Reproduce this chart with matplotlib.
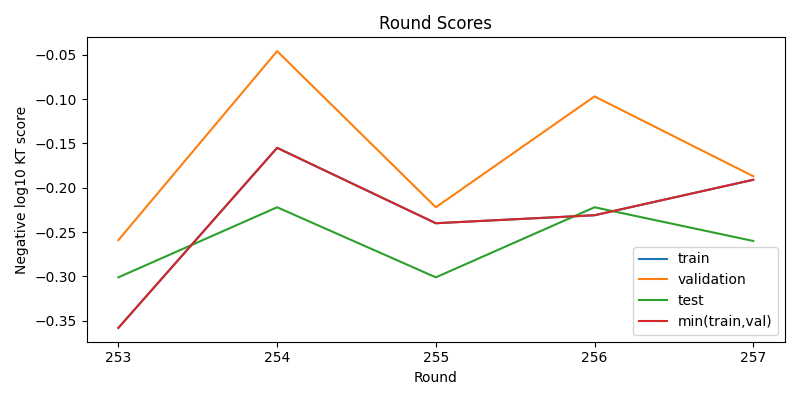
import matplotlib
matplotlib.use("Agg")
import matplotlib.pyplot as plt

rounds = [253, 254, 255, 256, 257]
train = [-0.358, -0.155, -0.240, -0.231, -0.191]
validation = [-0.259, -0.046, -0.222, -0.097, -0.187]
test = [-0.301, -0.222, -0.301, -0.222, -0.260]
min_train_val = [-0.358, -0.155, -0.240, -0.231, -0.191]

fig, ax = plt.subplots(figsize=(8, 4), dpi=100)
ax.plot(rounds, train, label="train")
ax.plot(rounds, validation, label="validation")
ax.plot(rounds, test, label="test")
ax.plot(rounds, min_train_val, label="min(train,val)")
ax.set_xticks(rounds)
ax.set_title("Round Scores")
ax.set_xlabel("Round")
ax.set_ylabel("Negative log10 KT score")
ax.legend(loc="lower right")
fig.tight_layout()
fig.savefig("out.png")
